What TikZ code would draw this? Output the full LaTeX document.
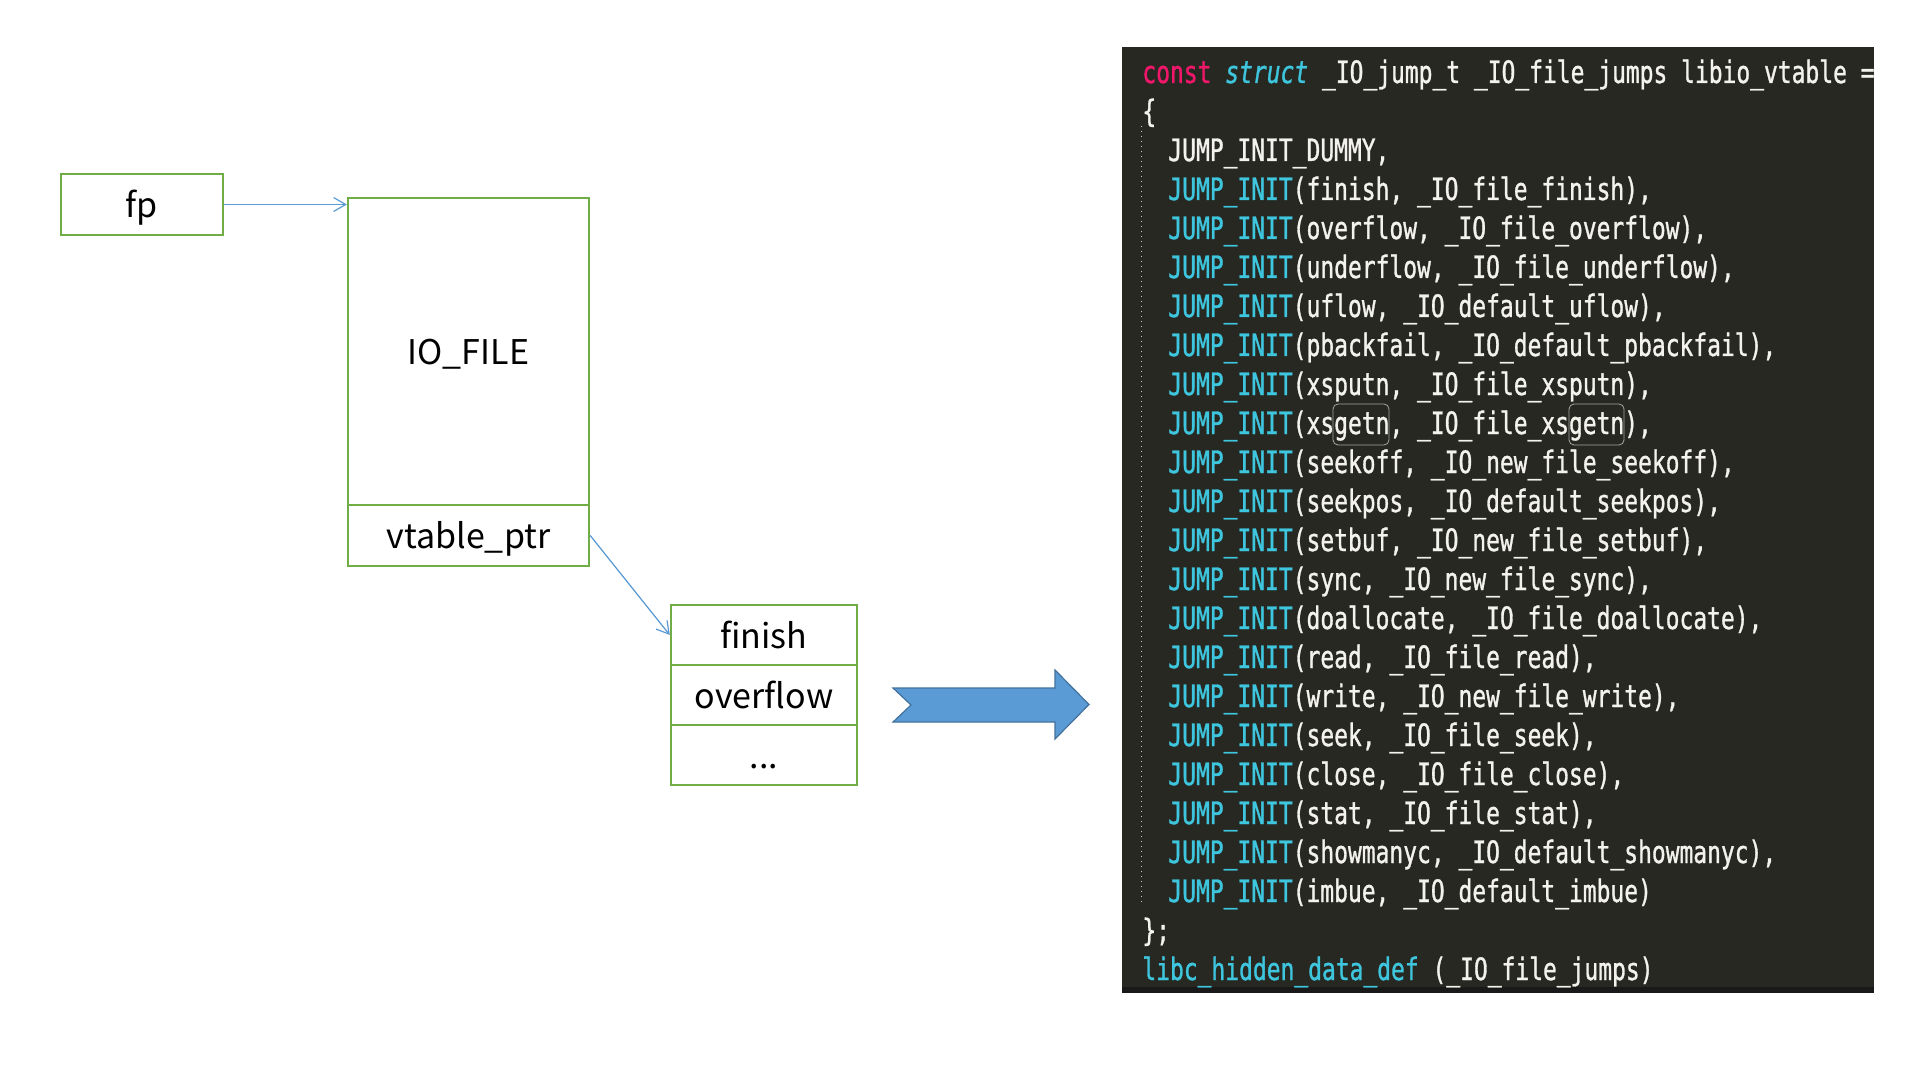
\documentclass[tikz,border=0pt]{standalone}
\usepackage{fontspec}
\setmainfont{Noto Sans CJK SC}
\newfontfamily\codefont[FakeStretch=0.745,FakeBold=1]{DejaVu Sans Mono}
\usetikzlibrary{arrows.meta}
\definecolor{boxgreen}{HTML}{70AD47}
\definecolor{linkblue}{HTML}{5B9BD5}
\definecolor{arrowfill}{HTML}{5B9BD5}
\definecolor{arrowedge}{HTML}{41719C}
\definecolor{codebg}{HTML}{272822}
\definecolor{codefg}{HTML}{F3F3EC}
\definecolor{codecyan}{HTML}{3EC6DE}
\definecolor{codepink}{HTML}{F0176B}
\newcommand\ji{\textcolor{codecyan}{JUMP\_INIT}}
\tikzset{
  cell/.style={draw=boxgreen, line width=1.2pt, inner sep=0pt, minimum width=#1,
    text height=15pt, text depth=2pt,
    font=\fontsize{17}{20}\selectfont, text=black},
  link/.style={draw=linkblue, line width=0.6pt, -{Straight Barb[length=6pt,width=7pt]}},
  code/.style={anchor=base west, inner sep=0pt, text=codefg,
    font=\codefont\fontsize{15.4}{18}\selectfont},
  bigarrow/.style={fill=arrowfill, draw=arrowedge, line width=0.6pt, line join=miter},
  getnbox/.style={draw=gray!70, line width=0.4pt, rounded corners=2.5pt}
}
\begin{document}
\begin{tikzpicture}[x=0.5pt,y=-0.5pt]
\useasboundingbox[fill=white] (0,0) rectangle (1920,1080);
% left structures
\node[cell=81.25pt, minimum height=30.5pt] (fp) at (142,204.5) {fp};
\node[cell=120.5pt, minimum height=153.5pt] (iofile) at (468.5,351.5) {IO\_FILE};
\node[cell=120.5pt, minimum height=30.5pt] (vtable) at (468.5,535.5) {vtable\_ptr};
\node[cell=93pt, minimum height=30pt] (finish) at (764,635) {finish};
\node[cell=93pt, minimum height=30pt] (overflow) at (764,695) {overflow};
\node[cell=93pt, minimum height=30pt] (dots) at (764,755) {...};
\draw[link] (fp.east) -- (fp.east -| iofile.west);
\draw[link] (vtable.east) -- (finish.west);
% big arrow
\draw[bigarrow] (893,688) -- (1055,688) -- (1055,670) -- (1089,704.5) -- (1055,739)
  -- (1055,722) -- (893,722) -- (911,705) -- cycle;
% code panel
\fill[codebg] (1122,47) rectangle (1874,993);
\fill[black!90] (1122,987) rectangle (1874,993);
\draw[gray!45, dotted, line width=0.5pt] (1141,126) -- (1141,905);
\begin{scope}
\clip (1122,47) rectangle (1874,993);
\node[code] (l0) at (1142,83) {\textcolor{codepink}{const} \textcolor{codecyan}{\itshape struct} \_IO\_jump\_t \_IO\_file\_jumps libio\_vtable =};
\end{scope}
\node[code] (l1) at (1142,122) {\{};
\node[code] (l2) at (1168,161) {JUMP\_INIT\_DUMMY,};
\node[code] (l3) at (1168,200) {\ji(finish, \_IO\_file\_finish),};
\node[code] (l4) at (1168,239) {\ji(overflow, \_IO\_file\_overflow),};
\node[code] (l5) at (1168,278) {\ji(underflow, \_IO\_file\_underflow),};
\node[code] (l6) at (1168,317) {\ji(uflow, \_IO\_default\_uflow),};
\node[code] (l7) at (1168,356) {\ji(pbackfail, \_IO\_default\_pbackfail),};
\node[code] (l8) at (1168,395) {\ji(xsputn, \_IO\_file\_xsputn),};
\node[code] (l9) at (1168,434) {\ji(xsgetn, \_IO\_file\_xsgetn),};
\node[code] (l10) at (1168,473) {\ji(seekoff, \_IO\_new\_file\_seekoff),};
\node[code] (l11) at (1168,512) {\ji(seekpos, \_IO\_default\_seekpos),};
\node[code] (l12) at (1168,551) {\ji(setbuf, \_IO\_new\_file\_setbuf),};
\node[code] (l13) at (1168,590) {\ji(sync, \_IO\_new\_file\_sync),};
\node[code] (l14) at (1168,629) {\ji(doallocate, \_IO\_file\_doallocate),};
\node[code] (l15) at (1168,668) {\ji(read, \_IO\_file\_read),};
\node[code] (l16) at (1168,707) {\ji(write, \_IO\_new\_file\_write),};
\node[code] (l17) at (1168,746) {\ji(seek, \_IO\_file\_seek),};
\node[code] (l18) at (1168,785) {\ji(close, \_IO\_file\_close),};
\node[code] (l19) at (1168,824) {\ji(stat, \_IO\_file\_stat),};
\node[code] (l20) at (1168,863) {\ji(showmanyc, \_IO\_default\_showmanyc),};
\node[code] (l21) at (1168,902) {\ji(imbue, \_IO\_default\_imbue)};
\node[code] (l22) at (1142,941) {\};};
\node[code] (l23) at (1142,980) {\textcolor{codecyan}{libc\_hidden\_data\_def} (\_IO\_file\_jumps)};
% highlight boxes around "getn"
\draw[getnbox] (1333,404) rectangle (1389,445);
\draw[getnbox] (1569,404) rectangle (1624,445);
\end{tikzpicture}
\end{document}
